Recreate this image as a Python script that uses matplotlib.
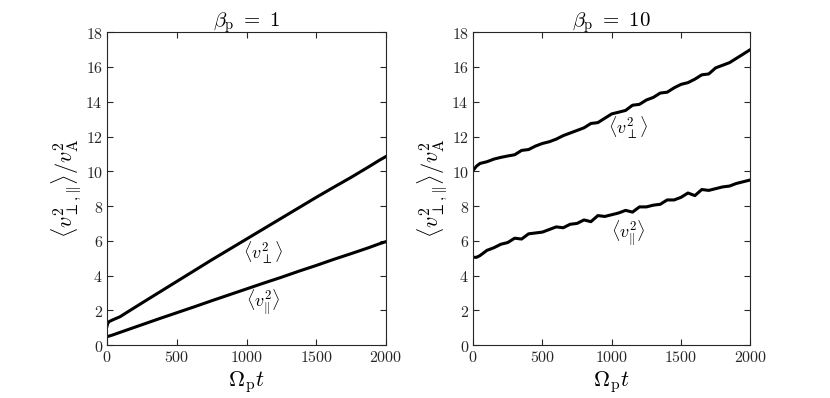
import matplotlib
matplotlib.use("Agg")
import matplotlib.pyplot as plt

plt.rcParams['mathtext.fontset'] = 'cm'
plt.rcParams['font.family'] = 'serif'
plt.rcParams['font.serif'] = ['DejaVu Serif']

# beta_p = 1
t1 = [0, 5, 15, 40, 93, 150, 250, 375, 500, 625, 750, 875, 1000, 1125, 1250,
      1375, 1500, 1625, 1750, 1875, 1950, 2000]
perp1 = [1.1, 1.25, 1.35, 1.45, 1.63, 1.92, 2.42, 3.04, 3.66, 4.28, 4.9, 5.5, 6.1,
         6.7, 7.3, 7.9, 8.5, 9.08, 9.65, 10.25, 10.62, 10.85]
par1 = [0.48, 0.49, 0.52, 0.58, 0.73, 0.89, 1.17, 1.52, 1.86, 2.2, 2.55, 2.89, 3.23,
        3.57, 3.9, 4.25, 4.58, 4.93, 5.26, 5.6, 5.82, 5.95]

# beta_p = 10
t2 = [0, 25, 50, 100, 150, 200, 250, 300, 350, 400, 450, 500, 550, 600, 650, 700,
      750, 800, 850, 900, 950, 1000, 1050, 1100, 1150, 1200, 1250, 1300, 1350, 1400,
      1450, 1500, 1550, 1600, 1650, 1700, 1750, 1800, 1850, 1900, 1950, 2000]
perp2 = [10.05, 10.3, 10.45, 10.55, 10.7, 10.8, 10.88, 10.95, 11.2, 11.25, 11.45,
         11.6, 11.7, 11.85, 12.05, 12.2, 12.35, 12.5, 12.75, 12.8, 13.05, 13.3, 13.4,
         13.5, 13.8, 13.85, 14.1, 14.25, 14.5, 14.55, 14.8, 15.0, 15.1, 15.3, 15.55,
         15.6, 15.95, 16.1, 16.25, 16.5, 16.75, 17.0]
par2 = [5.05, 5.05, 5.15, 5.45, 5.6, 5.8, 5.9, 6.15, 6.1, 6.4, 6.45, 6.5, 6.65, 6.8,
        6.75, 6.95, 7.0, 7.2, 7.1, 7.45, 7.4, 7.5, 7.6, 7.75, 7.65, 7.95, 7.95, 8.05,
        8.1, 8.35, 8.35, 8.5, 8.75, 8.6, 8.95, 8.9, 9.0, 9.1, 9.15, 9.3, 9.4, 9.5]

titles = [r'$\beta_\mathrm{p}\ =\ 1$', r'$\beta_\mathrm{p}\ =\ 10$']
xticks = [0, 500, 1000, 1500, 2000]
yticks = [0, 2, 4, 6, 8, 10, 12, 14, 16, 18]

fig = plt.figure(figsize=(8.3, 3.98), dpi=100)
ax1 = fig.add_axes([0.129, 0.133, 0.336, 0.786])
ax2 = fig.add_axes([0.570, 0.133, 0.334, 0.786])

series = [(ax1, t1, perp1, par1, (1118, 5.3), (1118, 2.45)),
          (ax2, t2, perp2, par2, (1119, 12.5), (1119, 6.45))]

for i, (ax, t, perp, par, lp, lq) in enumerate(series):
    ax.plot(t, perp, color='black', lw=2.2, solid_joinstyle='round')
    ax.plot(t, par, color='black', lw=2.2, solid_joinstyle='round')
    ax.text(lp[0], lp[1], r'$\langle v_\perp^2\rangle$', fontsize=13, ha='center', va='center')
    ax.text(lq[0], lq[1], r'$\langle v_\|^2\rangle$', fontsize=13, ha='center', va='center')
    ax.set_xlim(0, 2000)
    ax.set_ylim(0, 18)
    ax.set_xticks(xticks)
    ax.set_xticklabels([f'${v}$' for v in xticks], fontsize=11.5)
    ax.set_yticks(yticks)
    ax.set_yticklabels([f'${v}$' for v in yticks], fontsize=11.5)
    ax.tick_params(direction='in', top=True, right=True, length=4, color='#262626',
                   labelcolor='#262626', pad=3)
    for s in ax.spines.values():
        s.set_color('#262626')
        s.set_linewidth(0.8)
    ax.set_title(titles[i], fontsize=15, pad=4)
    ax.set_xlabel(r'$\Omega_\mathrm{p} t$', fontsize=16, labelpad=2)
    ax.set_ylabel(r'$\langle v^2_{\perp,\|}\rangle / v^2_\mathrm{A}$', fontsize=16, labelpad=2)

fig.savefig('out.png', dpi=100)
